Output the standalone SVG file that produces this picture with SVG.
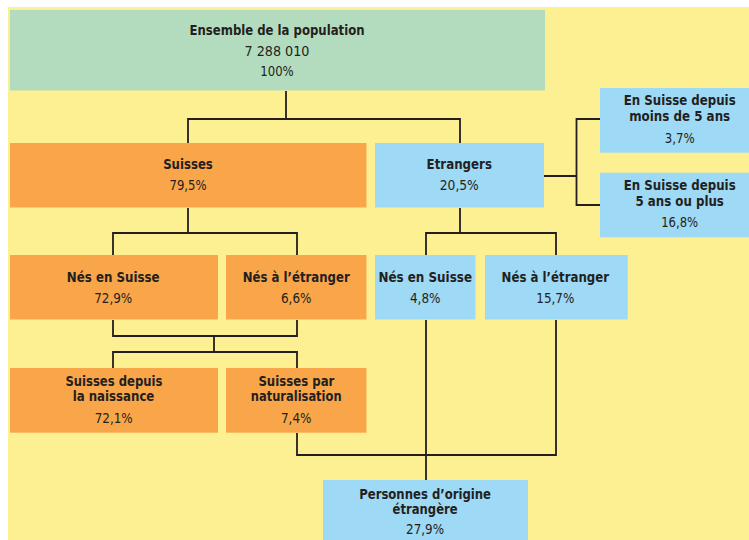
<svg xmlns="http://www.w3.org/2000/svg" width="749" height="540" viewBox="0 0 749 540">
<style>
.t{font-family:"DejaVu Sans Condensed","DejaVu Sans",sans-serif;font-stretch:condensed;font-size:14.5px;fill:#231f20;text-anchor:middle}
.b{font-weight:bold}
.g{fill:#b3dcbe}.o{fill:#f9a64a}.c{fill:#9ed9f6}
.ln{fill:none;stroke:#231f20;stroke-width:1.8}
</style>
<rect x="0" y="0" width="749" height="540" fill="#ffffff"/>
<rect x="8" y="7" width="741" height="533" fill="#fdf092"/>
<g id="connectors" class="ln">
<path d="M286 91V119M188 143V119H460V143"/>
<path d="M544 176H576.5M600 119H576.5V205H600"/>
<path d="M188 208V233M113 255V233H297V255"/>
<path d="M460 208V233M426 255V233H556V255"/>
<path d="M113 320V336H297V320M214 336V352M113 368V352H297V368"/>
<path d="M297 433V455H556V320M426 320V480"/>
</g>
<g id="n-total"><rect class="g" x="10" y="10" width="535" height="80.5"/>
<text class="t b" x="277" y="34.5" textLength="175" lengthAdjust="spacingAndGlyphs">Ensemble de la population</text>
<text class="t" x="277" y="56" textLength="65" lengthAdjust="spacingAndGlyphs">7 288 010</text>
<text class="t" x="277" y="76" textLength="33.5" lengthAdjust="spacingAndGlyphs">100%</text></g>
<g id="n-suisses"><rect class="o" x="10" y="143" width="356.5" height="64.5"/>
<text class="t b" x="188" y="168.5" textLength="49.7" lengthAdjust="spacingAndGlyphs">Suisses</text>
<text class="t" x="188" y="190" textLength="37" lengthAdjust="spacingAndGlyphs">79,5%</text></g>
<g id="n-etrangers"><rect class="c" x="375" y="143" width="169" height="64.5"/>
<text class="t b" x="459.3" y="168.5" textLength="65.4" lengthAdjust="spacingAndGlyphs">Etrangers</text>
<text class="t" x="459.3" y="190" textLength="39" lengthAdjust="spacingAndGlyphs">20,5%</text></g>
<g id="n-moins5"><rect class="c" x="600" y="88" width="149" height="64.7"/>
<text class="t b" x="679.7" y="104.5" textLength="112" lengthAdjust="spacingAndGlyphs">En Suisse depuis</text>
<text class="t b" x="679.7" y="121" textLength="101" lengthAdjust="spacingAndGlyphs">moins de 5 ans</text>
<text class="t" x="679.7" y="142.5" textLength="30" lengthAdjust="spacingAndGlyphs">3,7%</text></g>
<g id="n-plus5"><rect class="c" x="600" y="172.7" width="149" height="64.6"/>
<text class="t b" x="679.7" y="190" textLength="112" lengthAdjust="spacingAndGlyphs">En Suisse depuis</text>
<text class="t b" x="679.7" y="206" textLength="88.4" lengthAdjust="spacingAndGlyphs">5 ans ou plus</text>
<text class="t" x="679.7" y="226.5" textLength="37" lengthAdjust="spacingAndGlyphs">16,8%</text></g>
<g id="n-s-nes-suisse"><rect class="o" x="10" y="255" width="208" height="64.5"/>
<text class="t b" x="113.2" y="282" textLength="92.7" lengthAdjust="spacingAndGlyphs">Nés en Suisse</text>
<text class="t" x="113.2" y="302.5" textLength="38" lengthAdjust="spacingAndGlyphs">72,9%</text></g>
<g id="n-s-nes-etranger"><rect class="o" x="226" y="255" width="140.5" height="64.5"/>
<text class="t b" x="296.2" y="282" textLength="107" lengthAdjust="spacingAndGlyphs">Nés à l’étranger</text>
<text class="t" x="296.2" y="302.5" textLength="30.5" lengthAdjust="spacingAndGlyphs">6,6%</text></g>
<g id="n-e-nes-suisse"><rect class="c" x="375" y="255" width="100.5" height="64.5"/>
<text class="t b" x="425.2" y="282" textLength="93.6" lengthAdjust="spacingAndGlyphs">Nés en Suisse</text>
<text class="t" x="425.2" y="302.5" textLength="30.6" lengthAdjust="spacingAndGlyphs">4,8%</text></g>
<g id="n-e-nes-etranger"><rect class="c" x="485" y="255" width="142.7" height="64.5"/>
<text class="t b" x="555.3" y="282" textLength="107.5" lengthAdjust="spacingAndGlyphs">Nés à l’étranger</text>
<text class="t" x="555.3" y="302.5" textLength="38" lengthAdjust="spacingAndGlyphs">15,7%</text></g>
<g id="n-naissance"><rect class="o" x="10" y="368" width="208" height="64.7"/>
<text class="t b" x="113.9" y="386" textLength="97" lengthAdjust="spacingAndGlyphs">Suisses depuis</text>
<text class="t b" x="113.5" y="401" textLength="81.7" lengthAdjust="spacingAndGlyphs">la naissance</text>
<text class="t" x="113.7" y="422.5" textLength="38" lengthAdjust="spacingAndGlyphs">72,1%</text></g>
<g id="n-naturalisation"><rect class="o" x="226" y="368" width="140.5" height="64.7"/>
<text class="t b" x="296.4" y="386" textLength="76" lengthAdjust="spacingAndGlyphs">Suisses par</text>
<text class="t b" x="296.2" y="401" textLength="90.7" lengthAdjust="spacingAndGlyphs">naturalisation</text>
<text class="t" x="296.2" y="422.5" textLength="30.5" lengthAdjust="spacingAndGlyphs">7,4%</text></g>
<g id="n-origine"><rect class="c" x="323" y="480" width="205" height="60"/>
<text class="t b" x="425.1" y="498.5" textLength="131.8" lengthAdjust="spacingAndGlyphs">Personnes d’origine</text>
<text class="t b" x="425.1" y="514" textLength="65" lengthAdjust="spacingAndGlyphs">étrangère</text>
<text class="t" x="425.1" y="534" textLength="38" lengthAdjust="spacingAndGlyphs">27,9%</text></g>
</svg>
